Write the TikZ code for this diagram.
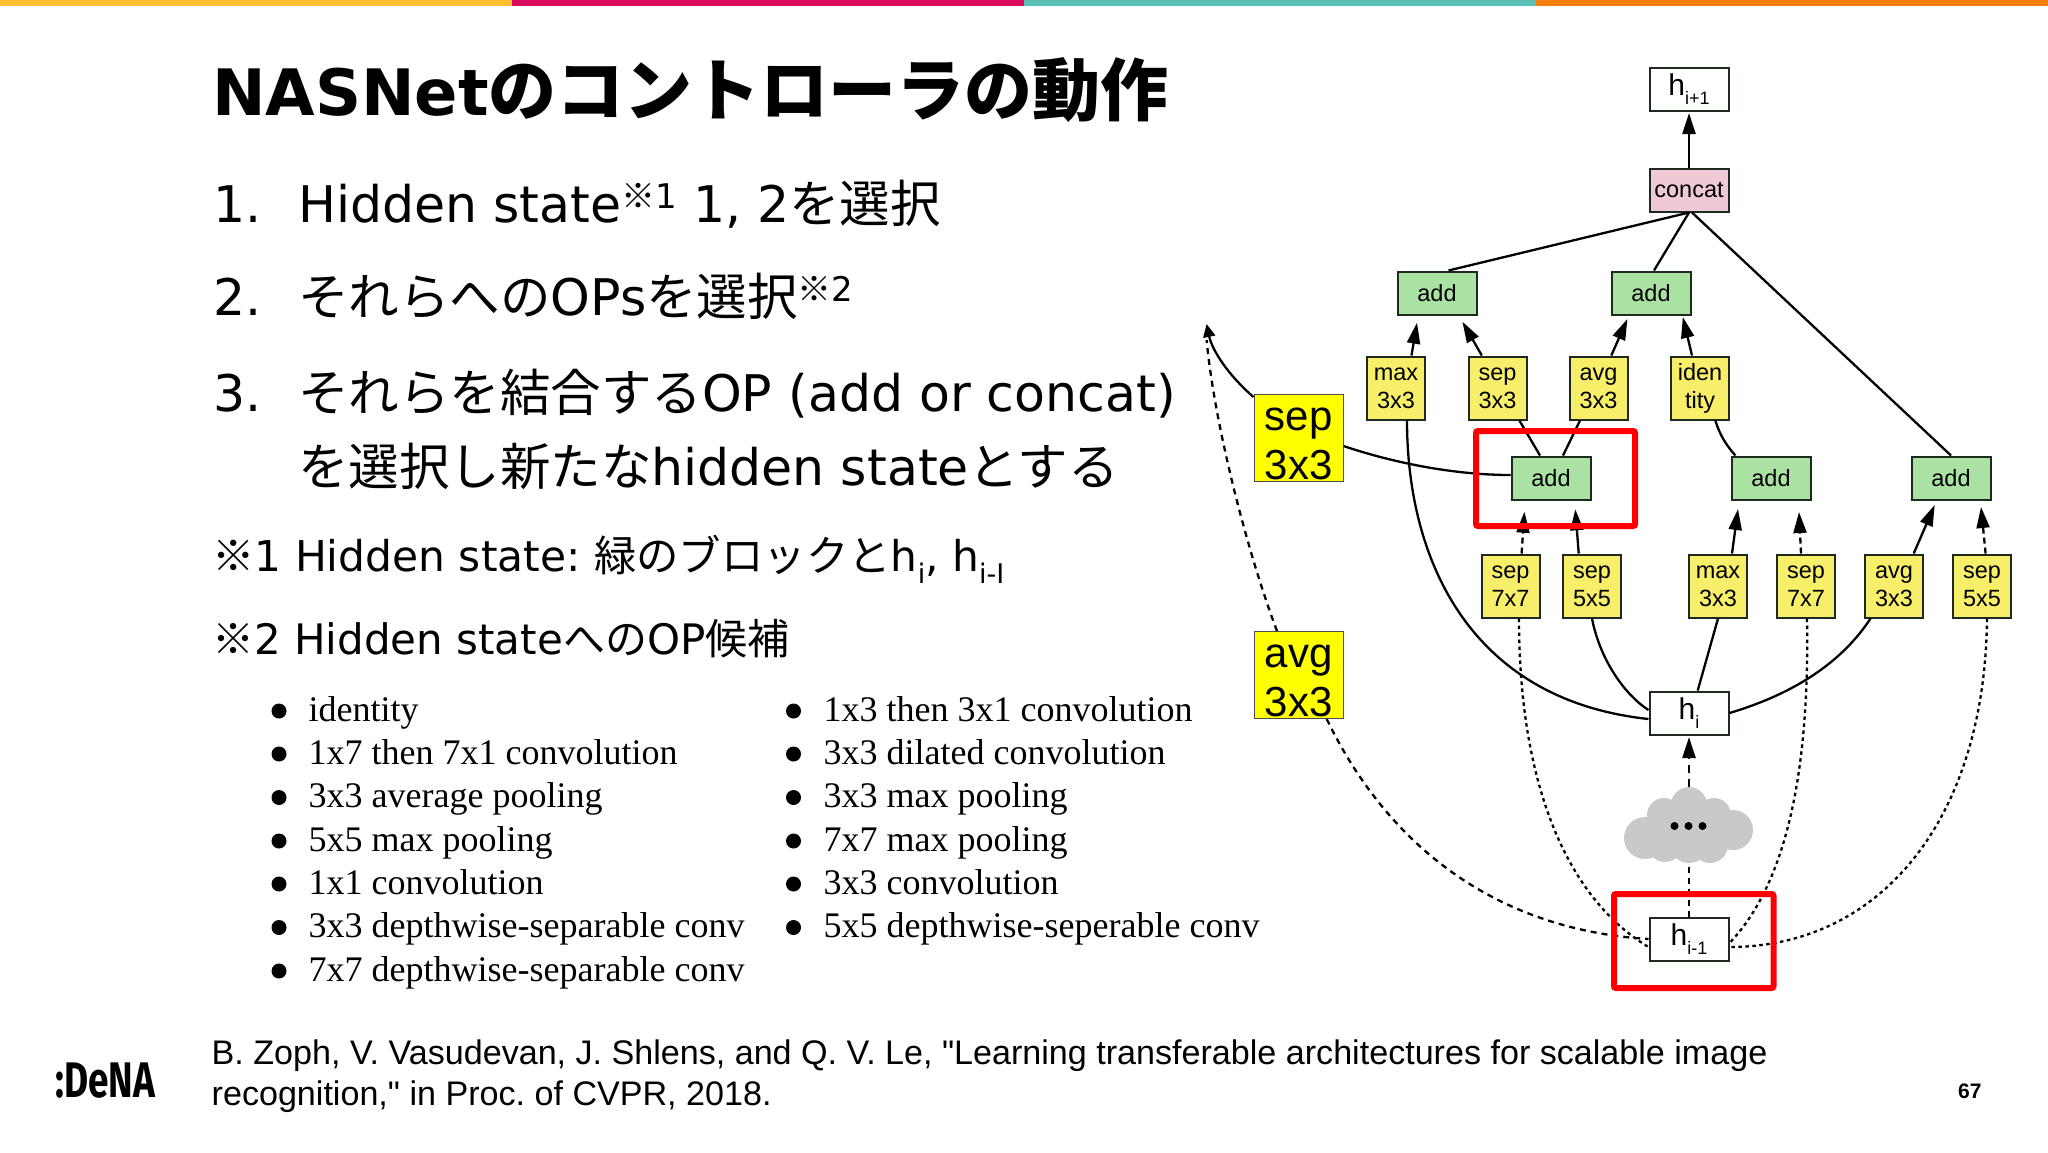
\documentclass[tikz,border=0pt]{standalone}
\usepackage{fontspec}
\usetikzlibrary{arrows.meta}
\setmainfont{Liberation Sans}
\newfontfamily\la{DejaVu Sans}
\newfontfamily\jpf{Noto Sans CJK JP}
\newfontfamily\ti{Liberation Serif}
\newfontfamily\ar{Liberation Sans}
\newfontfamily\logof{Fira Sans}
\frenchspacing
\newcommand\fsz[1]{\fontsize{#1}{#1}\selectfont}
\newcommand\subtxt[2]{\raisebox{-0.3em}{\fsz{#1}#2}}
\newcommand\suptxt[1]{\raisebox{14pt}{\fsz{34}{\jpf ※}{\la #1}}}
\definecolor{barY}{HTML}{FDC02F}
\definecolor{barM}{HTML}{DA0B5C}
\definecolor{barT}{HTML}{5ABFB5}
\definecolor{barO}{HTML}{F77F0E}
\definecolor{opY}{HTML}{F7EE6A}
\definecolor{addG}{HTML}{A9E2A3}
\definecolor{conP}{HTML}{F0C9D6}
\definecolor{bigY}{HTML}{FFFF00}
\definecolor{cloudG}{HTML}{C9C8CB}
\definecolor{edgeK}{HTML}{1E2A1E}
\tikzset{
  x=1pt,y=-1pt,
  opbox/.style={draw=edgeK,line width=2pt,fill=opY,minimum width=58pt,minimum height=63pt,inner sep=0pt,align=center,font=\ar\fontsize{23.5}{28}\selectfont},
  addbox/.style={draw=edgeK,line width=2pt,fill=addG,minimum width=79pt,minimum height=43pt,inner sep=0pt,font=\ar\fsz{23.5}},
  conbox/.style={addbox,fill=conP},
  hbox/.style={draw=edgeK,line width=2pt,fill=white,minimum width=79pt,minimum height=43pt,inner sep=0pt,font=\ar\fsz{30}},
  bigbox/.style={draw=black!70,line width=1pt,fill=bigY,minimum width=89pt,minimum height=87pt,inner sep=0pt,align=center,font=\ar\fontsize{42}{49}\selectfont},
  redbox/.style={draw=red,line width=6pt,rounded corners=2pt},
  link/.style={line width=2.3pt,black},
  tiplink/.style={link,-{Triangle[length=21pt,width=13pt]}},
  dashlink/.style={link,dash pattern=on 6pt off 5pt},
  dotlink/.style={link,dash pattern=on 3.5pt off 3.5pt},
  body/.style={anchor=base west,inner sep=0pt,text=black},
  item/.style={anchor=base west,inner sep=0pt,font=\ti\fsz{36}},
  dot/.style={fill=black,draw=none,circle,inner sep=0pt,minimum size=15pt},
}
\begin{document}
\begin{tikzpicture}
\useasboundingbox (0,0) rectangle (2048,1152);
\fill[white] (0,0) rectangle (2048,1152);
\fill[barY] (0,0) rectangle (512,6);
\fill[barM] (512,0) rectangle (1024,6);
\fill[barT] (1024,0) rectangle (1536,6);
\fill[barO] (1536,0) rectangle (2048,6);

% text
\node[body] (title) at (212,115) {\bfseries\fsz{64}{\la NASNet}\fsz{68}{\jpf のコントローラの動作}};
\node[body] (l1) at (213,222) {\fsz{50.5}\la 1.};
\node[body] (l1b) at (298,222) {\fsz{50.5}\la Hidden state\suptxt{1} 1, 2{\jpf を選択}};
\node[body] (l2) at (213,315) {\fsz{50.5}\la 2.};
\node[body] (l2b) at (298,315) {\fsz{50.5}{\jpf それらへの}\la OPs{\jpf を選択}\suptxt{2}};
\node[body] (l3) at (213,411) {\fsz{50.5}\la 3.};
\node[body] (l3b) at (298,411) {\fsz{50.5}{\jpf それらを結合する}\la OP (add or concat)};
\node[body] (l4b) at (298,485) {\fsz{50.5}{\jpf を選択し新たな}\la hidden state{\jpf とする}};
\node[body] (n1) at (212,571) {\fsz{42.4}{\jpf ※}\la 1 Hidden state: {\jpf 緑のブロックと}h\subtxt{27}{i}, h\subtxt{27}{i-I}};
\node[body] (n2) at (212,654) {\fsz{42}{\jpf ※}\la 2 Hidden state{\jpf への}OP{\jpf 候補}};

\foreach \yy/\nm/\tx in {721/a/identity,764/b/1x7 then 7x1 convolution,807.5/c/3x3 average pooling,851/d/5x5 max pooling,894/e/1x1 convolution,937.5/f/3x3 depthwise-separable conv,981/g/7x7 depthwise-separable conv}{
  \node[dot] (bl\nm) at (279,\yy-10) {};
  \node[item] (il\nm) at (308.5,\yy) {\tx};
}
\foreach \yy/\nm/\tx in {721/a/1x3 then 3x1 convolution,764/b/3x3 dilated convolution,807.5/c/3x3 max pooling,851/d/7x7 max pooling,894/e/3x3 convolution,937.5/f/5x5 depthwise-seperable conv}{
  \node[dot] (br\nm) at (793.5,\yy-10) {};
  \node[item] (ir\nm) at (823.5,\yy) {\tx};
}
\node[body] (ref1) at (211.5,1064) {\ar\fsz{34.1}B. Zoph, V. Vasudevan, J. Shlens, and Q. V. Le, "Learning transferable architectures for scalable image};
\node[body] (ref2) at (211.5,1105) {\ar\fsz{34.1}recognition," in Proc. of CVPR, 2018.};
\node[body] (pg) at (1958,1098) {\ar\bfseries\fsz{21}67};
\node[body,xscale=0.74] (logo) at (55,1097) {\logof\bfseries\fsz{50}:DeNA};

% cloud
\fill[cloudG] (1689,825) circle (30) (1689,805) circle (18) (1664,815) circle (17) (1714,815) circle (17)
  (1645,838) circle (21) (1733,830) circle (20) (1665,845) circle (17) (1710,845) circle (18) (1689,843) circle (20);
\node[circle,fill=black,inner sep=0pt,minimum size=8pt] (d1) at (1674.5,826) {};
\node[circle,fill=black,inner sep=0pt,minimum size=8pt] (d2) at (1688.5,826) {};
\node[circle,fill=black,inner sep=0pt,minimum size=8pt] (d3) at (1702.5,826) {};
\coordinate (cloudT) at (1689,787);
\coordinate (cloudB) at (1689,865);

% nodes
\node[hbox] (hup) at (1689,89) {h\subtxt{18}{i+1}};
\node[conbox] (concat) at (1689,190) {concat};
\node[addbox] (addA) at (1437,293) {add};
\node[addbox] (addB) at (1651,293) {add};
\node[opbox] (t1) at (1396,388) {max\\3x3};
\node[opbox] (t2) at (1497.5,388) {sep\\3x3};
\node[opbox] (t3) at (1598.5,388) {avg\\3x3};
\node[opbox] (t4) at (1700,388) {iden\\tity};
\node[addbox] (addC) at (1551,478) {add};
\node[addbox] (addD) at (1771,478) {add};
\node[addbox] (addE) at (1951,478) {add};
\node[opbox] (b1) at (1510.5,586) {sep\\7x7};
\node[opbox] (b2) at (1592,586) {sep\\5x5};
\node[opbox] (b3) at (1718,586) {max\\3x3};
\node[opbox] (b4) at (1806,586) {sep\\7x7};
\node[opbox] (b5) at (1894,586) {avg\\3x3};
\node[opbox] (b6) at (1982,586) {sep\\5x5};
\node[hbox] (hi) at (1689,713) {h\subtxt{18}{i}};
\node[hbox] (hm) at (1689,939) {h\subtxt{18}{i-1}};
\node[bigbox] (bigS) at (1298.5,438) {\rule{0pt}{34pt}sep\\3x3};
\node[bigbox] (bigA) at (1298.5,675) {\rule{0pt}{34pt}avg\\3x3};

% tips
\coordinate (tA1) at (1417,322.7);
\coordinate (tA2) at (1462.4,321.7);
\coordinate (tB1) at (1627.4,319);
\coordinate (tB2) at (1682.8,317);
\coordinate (tC1) at (1524.4,511.7);
\coordinate (tC2) at (1575.3,509.3);
\coordinate (tD1) at (1738,509);
\coordinate (tD2) at (1799,512);
\coordinate (tE1) at (1934.7,505);
\coordinate (tE2) at (1981,507);
\coordinate (tS) at (1206.6,324);
\coordinate (tHi) at (1689,737);
\coordinate (tUp) at (1689,113);

% connectors
\draw[tiplink] (concat.north) -- (tUp);
\draw[link] (addA.north -| 1448.5,0) -- (concat.south);
\draw[link] (addB.north -| 1654,0) -- (concat.south);
\draw[link] (addE.north) -- (concat.south -| 1692,0);
\draw[tiplink] (t1.north -| 1411.5,0) -- (tA1);
\draw[tiplink] (t2.north -| 1481.8,0) -- (tA2);
\draw[tiplink] (t3.north -| 1611.3,0) -- (tB1);
\draw[tiplink] (t4.north -| 1692,0) -- (tB2);
\draw[link] (t2.south -| 1519.4,0) -- (addC.north -| 1540,0);
\draw[link] (t3.south -| 1580,0) -- (addC.north -| 1563,0);
\draw[link] (t4.south -| 1715.4,0) .. controls (1720,436) and (1727,446) .. (addD.north -| 1735.4,0);
\draw[link] (bigS.east |- 0,446) .. controls (1400,465) and (1460,475) .. (addC.west |- 0,475);
\draw[link,-{Triangle[length=13pt,width=12pt]}] (bigS.north west |- 0,397) .. controls (1228,375) and (1212,350) .. (tS);
\draw[dashlink] (bigA.north -| 1277,0) .. controls (1250,560) and (1215,430) .. (1206.6,340);
\draw[dashlink] (bigA.south -| 1326.7,0) .. controls (1390,850) and (1500,930) .. (hm.west);
\draw[tiplink,dash pattern=on 6pt off 4pt] (b1.north -| 1521.6,0) -- (tC1);
\draw[tiplink] (b2.north -| 1578.7,0) -- (tC2);
\draw[tiplink] (b3.north -| 1732,0) -- (tD1);
\draw[tiplink,dash pattern=on 6pt off 4pt] (b4.north -| 1801,0) -- (tD2);
\draw[tiplink] (b5.north -| 1913.7,0) -- (tE1);
\draw[tiplink,dash pattern=on 6pt off 4pt] (b6.north -| 1985.6,0) -- (tE2);
\draw[link] (t1.south -| 1407,0) .. controls (1407,560) and (1470,700) .. (hi.west |- 0,719);
\draw[link] (b2.south) .. controls (1600,660) and (1625,695) .. (hi.west |- 0,710);
\draw[link] (b3.south) -- (hi.north -| 1697.7,0);
\draw[link] (b5.south -| 1870.5,0) .. controls (1840,665) and (1790,695) .. (hi.east);
\draw[tiplink,dash pattern=on 8pt off 6pt] (cloudT) -- (tHi);
\draw[dashlink] (hm.north) -- (cloudB);
\draw[dotlink] (b1.south -| 1519,0) .. controls (1519,790) and (1570,900) .. (hm.west |- 0,947);
\draw[dotlink] (b4.south -| 1807,0) .. controls (1810,790) and (1780,890) .. (hm.east |- 0,943);
\draw[dotlink] (b6.south -| 1987,0) .. controls (1985,820) and (1880,947) .. (hm.east |- 0,947);

% red highlights
\draw[redbox] (1476,431) rectangle (1635,526);
\draw[redbox] (1614,894) rectangle (1773.5,988);
\end{tikzpicture}
\end{document}
